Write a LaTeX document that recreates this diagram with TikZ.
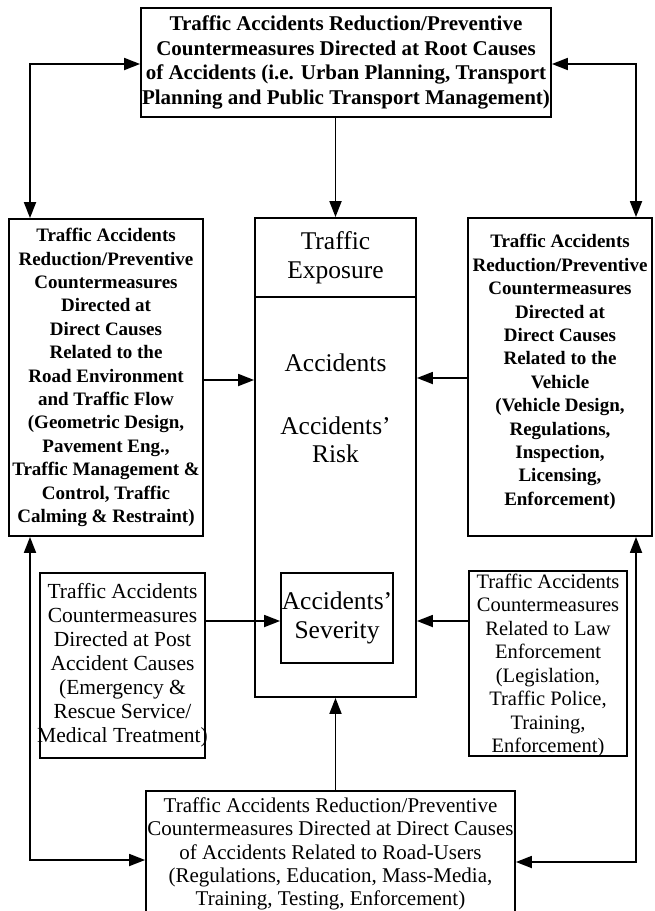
\documentclass[tikz,border=0pt]{standalone}
\usepackage{fontspec}
\setmainfont{Liberation Serif}
\usetikzlibrary{arrows.meta}
\begin{document}
\begin{tikzpicture}[x=1pt,y=-1pt,
  box/.style={draw, line width=1.8pt, rectangle, inner sep=0pt},
  txt/.style={inner sep=0pt, align=center},
  boldtxt/.style={txt, font=\fontsize{19}{23.4}\selectfont\bfseries},
  plaintxt/.style={txt, font=\fontsize{21.5}{24}\selectfont},
  bigtxt/.style={txt, font=\fontsize{25.5}{28.5}\selectfont},
  arr/.style={line width=1.8pt, -{Triangle[length=16pt,width=12pt]}},
  dbl/.style={line width=1.8pt, {Triangle[length=16pt,width=12pt]}-{Triangle[length=16pt,width=12pt]}}
]
% canvas
\fill[white] (0,0) rectangle (654,911);
\useasboundingbox (0,0) rectangle (654,911);

% frames
\node[box, minimum width=410pt, minimum height=109pt] (top) at (346,62.5) {};
\node[box, minimum width=194pt, minimum height=317pt] (left) at (106,377.5) {};
\node[box, minimum width=184pt, minimum height=318pt] (right) at (560,377) {};
\node[box, minimum width=161pt, minimum height=79pt] (expo) at (335.5,257.5) {};
\node[box, minimum width=161pt, minimum height=400pt] (core) at (335.5,497) {};
\node[box, minimum width=112pt, minimum height=90pt] (sev) at (337,618) {};
\node[box, minimum width=165pt, minimum height=185pt] (post) at (122.5,665.5) {};
\node[box, minimum width=158pt, minimum height=185pt] (law) at (548,663.5) {};
\node[box, minimum width=369pt, minimum height=126pt] (bottom) at (330.5,854) {};

% root-cause countermeasures
\node[txt, font=\fontsize{21}{24.5}\selectfont\bfseries] (toptext) at (top.center)
  {Traffic Accidents Reduction/Preventive\\
   Countermeasures Directed at Root Causes\\
   of Accidents (i.e. Urban Planning, Transport\\
   Planning and Public Transport Management)};

% road environment countermeasures
\node[boldtxt] (lefttext) at (left.center)
  {Traffic Accidents\\ Reduction/Preventive\\ Countermeasures\\ Directed at\\ Direct Causes\\
   Related to the\\ Road Environment\\ and Traffic Flow\\ (Geometric Design,\\ Pavement Eng.,\\
   Traffic Management \&\\ Control, Traffic\\ Calming \& Restraint)};

% vehicle countermeasures
\node[boldtxt] (righttext) at ([yshift=5pt]right.center)
  {Traffic Accidents\\ Reduction/Preventive\\ Countermeasures\\ Directed at\\ Direct Causes\\
   Related to the\\ Vehicle\\ (Vehicle Design,\\ Regulations,\\ Inspection,\\ Licensing,\\ Enforcement)};

% central column texts
\node[bigtxt] (expotext) at (expo.center) {Traffic\\ Exposure};
\node[bigtxt] (acc) at (335.5,363) {Accidents};
\node[bigtxt] (risk) at (335.5,440) {Accidents'\\ Risk};
\node[bigtxt] (sevtext) at (sev.center) {Accidents'\\ Severity};

% post-accident countermeasures
\node[plaintxt] (posttext) at (post.center)
  {Traffic Accidents\\ Countermeasures\\ Directed at Post\\ Accident Causes\\ (Emergency \&\\
   Rescue Service/\\ Medical Treatment)};

% law enforcement countermeasures
\node[txt, font=\fontsize{20.5}{23.5}\selectfont] (lawtext) at ([yshift=-2pt]law.center)
  {Traffic Accidents\\ Countermeasures\\ Related to Law\\ Enforcement\\ (Legislation,\\
   Traffic Police,\\ Training,\\ Enforcement)};

% road-user countermeasures
\node[txt, font=\fontsize{21}{23.3}\selectfont] (bottomtext) at (bottom.center)
  {Traffic Accidents Reduction/Preventive\\
   Countermeasures Directed at Direct Causes\\
   of Accidents Related to Road-Users\\
   (Regulations, Education, Mass-Media,\\
   Training, Testing, Enforcement)};

% corner points of the outer loops
\coordinate (tl) at (30,64);
\coordinate (tr) at (636,64);
\coordinate (bl) at (30,860);
\coordinate (br) at (636,862);

% outer loops
\draw[dbl] (top.west |- tl) -- (tl) -- (tl |- left.north);
\draw[dbl] (top.east |- tr) -- (tr) -- (tr |- right.north);
\draw[dbl] (left.south -| bl) -- (bl) -- (bl -| bottom.west);
\draw[dbl] (right.south -| br) -- (br) -- (br -| bottom.east);

% links into the central column
\draw[arr] (expo.north |- top.south) -- (expo.north);
\draw[arr] (left.east |- 0,380) -- (core.west |- 0,380);
\draw[arr] (right.west |- 0,378) -- (core.east |- 0,378);
\draw[arr] (post.east |- 0,621) -- (sev.west |- 0,621);
\draw[arr] (law.west |- 0,621) -- (core.east |- 0,621);
\draw[arr] (core.south |- bottom.north) -- (core.south);
\end{tikzpicture}
\end{document}
